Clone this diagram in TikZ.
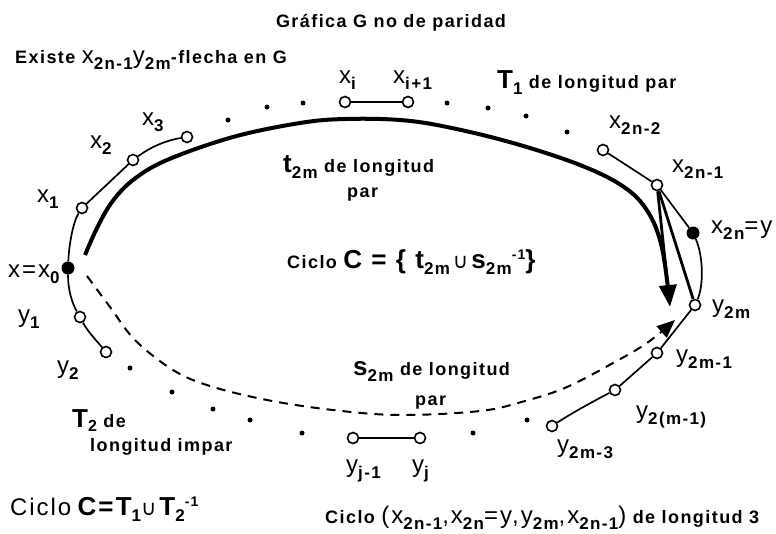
\documentclass[tikz,border=0pt]{standalone}
\usepackage{fontspec}
\setmainfont{Liberation Sans}[LetterSpace=8]
\newfontfamily\dvfont{DejaVu Sans}
\usetikzlibrary{arrows.meta}
\newcommand\txf{\fontsize{18}{20}\selectfont\bfseries}
\newcommand\vlet[1]{{\fontsize{24}{24}\selectfont\mdseries #1}}
\newcommand\vbig[1]{{\fontsize{26}{26}\selectfont\bfseries #1}}
\newcommand\mysub[1]{\raisebox{-6pt}{\fontsize{17}{17}\selectfont\bfseries #1}}
\newcommand\mysup[1]{\raisebox{9pt}{\fontsize{14}{14}\selectfont\bfseries #1}}
\newcommand\cupsym{{\dvfont\mdseries\fontsize{21}{21}\selectfont ∪}}
\begin{document}
\begin{tikzpicture}[x=1pt,y=-1pt,
  oc/.style={circle,draw,fill=white,line width=1.6pt,minimum size=11pt,inner sep=0pt},
  fc/.style={circle,fill=black,minimum size=13pt,inner sep=0pt},
  dotn/.style={circle,fill=black,minimum size=5pt,inner sep=0pt},
  thinln/.style={line width=1.7pt},
  tpath/.style={line width=4pt,-{Triangle[length=22pt,width=17pt]}},
  flecha/.style={line width=2.8pt},
  spath/.style={line width=2pt,dash pattern=on 9pt off 7pt,-{Triangle[length=18pt,width=15pt]}},
  lbl/.style={inner sep=0pt,font=\txf}]
\useasboundingbox (0,0) rectangle (776,533);
\fill[white] (0,0) rectangle (776,533);

% vertices
\node[fc] (x0) at (68,268) {};
\node[oc] (x1) at (82,208) {};
\node[oc] (x2) at (133,160) {};
\node[oc] (x3) at (187,137) {};
\node[oc] (xi) at (345,102) {};
\node[oc] (xi1) at (408,102) {};
\node[oc] (x2n2) at (603,150) {};
\node[oc] (x2n1) at (657,185) {};
\node[fc] (x2n) at (693,233) {};
\node[oc] (y2m) at (695,305) {};
\node[oc] (y2m1) at (657,353) {};
\node[oc] (y2mm) at (615,390) {};
\node[oc] (y2m3) at (552,426) {};
\node[oc] (yj1) at (353,438) {};
\node[oc] (yj) at (420,438) {};
\node[oc] (y1) at (80,317) {};
\node[oc] (y2) at (106,352) {};

% dots
\foreach \p [count=\k] in {(228,120),(267,107),(303,103),(447,103),(488,108),(526,116),(567,132),
  (130,368),(172,392),(213,409),(250,420),(302,433),(473,433),(527,420)}
  \node[dotn] (d\k) at \p {};

% thin edges
\draw[thinln] (x0) .. controls (69,245) and (73,222) .. (x1);
\draw[thinln] (x1) -- (x2);
\draw[thinln] (x2) .. controls (152,146) and (168,140) .. (x3);
\draw[thinln] (x0) .. controls (68,290) and (72,303) .. (y1);
\draw[thinln] (y1) .. controls (88,332) and (96,340) .. (y2);
\draw[thinln] (xi) -- (xi1);
\draw[thinln] (yj1) -- (yj);
\draw[thinln] (x2n2) -- (x2n1);
\draw[thinln] (x2n1) -- (x2n);
\draw[thinln] (x2n) .. controls (703,255) and (704,285) .. (y2m);
\draw[thinln] (y2m) -- (y2m1);
\draw[thinln] (y2m1) -- (y2mm);
\draw[thinln] (y2mm) .. controls (592,402) and (572,413) .. (y2m3);

% thick path t_2m
\coordinate (tstart) at (85,255);
\coordinate (tend) at (670,307);
\draw[tpath] plot[smooth,tension=0.6] coordinates {(tstart) (97,228) (112,202) (133,180) (167,160) (233,137) (300,123) (345,119) (400,120) (447,127) (513,143) (580,165) (624,187) (648,212) (662,248) (tend)};
\coordinate (midend) at (668,288);
\draw[flecha] (x2n1) -- (midend);
\draw[flecha] (x2n1) -- (y2m);

% dashed path s_2m
\coordinate (sstart) at (87,276);
\coordinate (send) at (675,320);
\draw[spath] plot[smooth,tension=0.6] coordinates {(sstart) (110,307) (135,340) (173,370) (210,386) (267,400) (333,410) (400,415) (480,411) (525,401) (567,387) (613,363) (647,343) (send)};

% labels
\node[lbl,anchor=base] (title) at (391,27) {Gráfica G no de paridad};
\node[lbl,anchor=base west] (exi) at (15,63) {Existe \vlet{x}\mysub{2n-1}\vlet{y}\mysub{2m}-flecha en G};
\node[lbl,anchor=base west] (lxi) at (339,83) {\vlet{x}\mysub{i}};
\node[lbl,anchor=base west] (lxi1) at (393,83) {\vlet{x}\mysub{i+1}};
\node[lbl,anchor=base west] (lT1) at (497,88) {\vbig{T}\mysub{1} de longitud par};
\node[lbl,anchor=base west] (lx2n2) at (609,128) {\vlet{x}\mysub{2n-2}};
\node[lbl,anchor=base west] (lx2n1) at (672,172) {\vlet{x}\mysub{2n-1}};
\node[lbl,anchor=base west] (lx2n) at (711,233) {\vlet{x}\mysub{2n}\vlet{=y}};
\node[lbl,anchor=base west] (ly2m) at (712,312) {\vlet{y}\mysub{2m}};
\node[lbl,anchor=base west] (ly2m1) at (676,362) {\vlet{y}\mysub{2m-1}};
\node[lbl,anchor=base west] (ly2mm) at (636,418) {\vlet{y}\mysub{2(m-1)}};
\node[lbl,anchor=base west] (ly2m3) at (557,452) {\vlet{y}\mysub{2m-3}};
\node[lbl,anchor=base west] (lyj) at (412,472) {\vlet{y}\mysub{j}};
\node[lbl,anchor=base west] (lyj1) at (346,472) {\vlet{y}\mysub{j-1}};
\node[lbl,anchor=base west] (lx3) at (142,125) {\vlet{x}\mysub{3}};
\node[lbl,anchor=base west] (lx2) at (90,148) {\vlet{x}\mysub{2}};
\node[lbl,anchor=base west] (lx1) at (37,202) {\vlet{x}\mysub{1}};
\node[lbl,anchor=base west] (lx0) at (8,277) {\vlet{x=x}\mysub{0}};
\node[lbl,anchor=base west] (ly1) at (18,322) {\vlet{y}\mysub{1}};
\node[lbl,anchor=base west] (ly2) at (57,373) {\vlet{y}\mysub{2}};
\node[lbl,anchor=base west] (lT2) at (72,427) {\vbig{T}\raisebox{-4pt}{\fontsize{16}{16}\selectfont\bfseries 2} de};
\node[lbl,anchor=base west] (limp) at (90,451) {longitud impar};
\node[lbl,anchor=base west] (lcic1) at (10,515) {\vlet{Ciclo} \vbig{C=T}\mysub{1}\cupsym\,\vbig{T}\mysub{2}\mysup{-1}};
\node[lbl,anchor=base west,font=\fontsize{18}{20}\selectfont\bfseries] (lcic2) at (325,523) {Ciclo \vlet{(x}\mysub{2n-1}\vlet{,x}\mysub{2n}\vlet{=y,y}\mysub{2m}\vlet{,x}\mysub{2n-1}\vlet{)} de longitud 3};
\node[lbl,anchor=base west] (lt) at (283,172) {\vbig{t}\mysub{2m} de longitud};
\node[lbl,anchor=base west] (ltp) at (347,197) {par};
\node[lbl,anchor=base west] (ls) at (353,375) {\vbig{s}\mysub{2m} de longitud};
\node[lbl,anchor=base west] (lsp) at (415,405) {par};
\node[lbl,anchor=base west] (lcic) at (287,268) {Ciclo \vbig{C = \{ t}\mysub{2m}\,\cupsym\,\vbig{s}\mysub{2m}\mysup{-1}\vbig{\}}};
\end{tikzpicture}
\end{document}
